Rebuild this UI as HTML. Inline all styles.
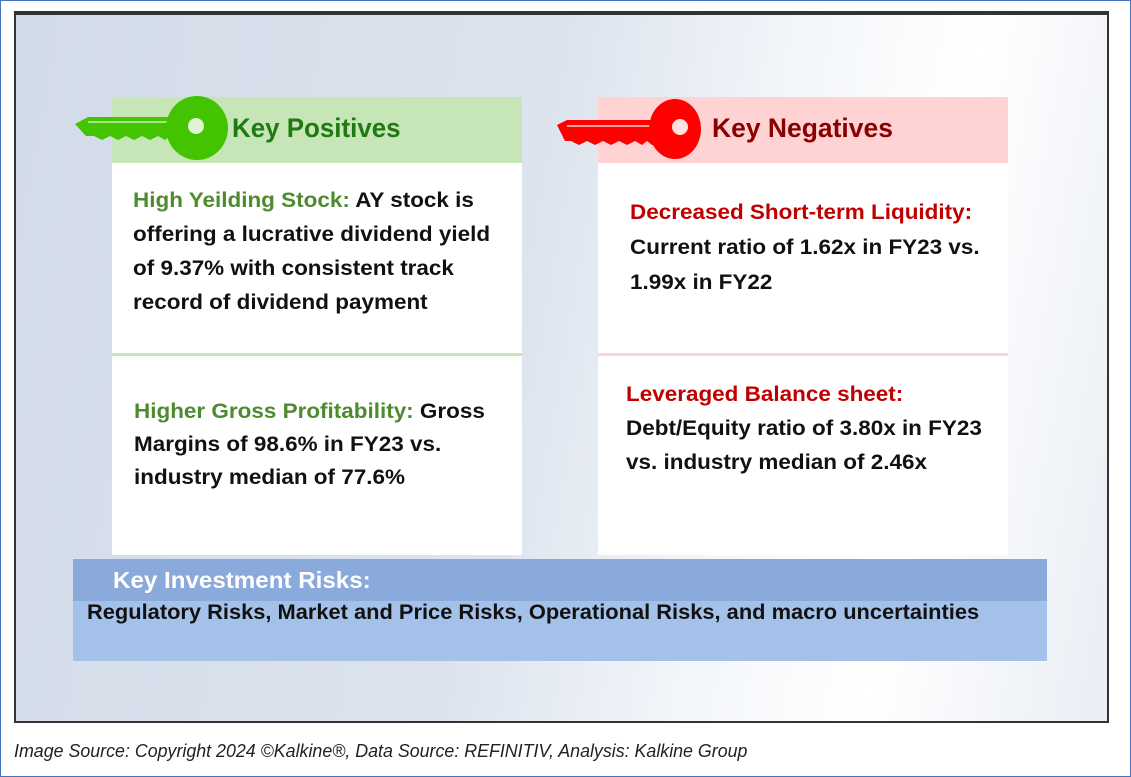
<!DOCTYPE html>
<html><head><meta charset="utf-8"><style>
body{margin:0;width:1131px;height:777px;background:#fff;position:relative;overflow:hidden;font-family:"Liberation Sans",sans-serif}
.abs{position:absolute}
.t{position:absolute;white-space:nowrap;font-weight:bold;font-size:21px;color:#111;transform-origin:left top;transform:scaleX(1.07)}
.g{color:#4e8a2e}.r{color:#c00000}
</style></head><body>
<div class="abs" style="left:0;top:0;width:1129px;height:775px;border:1px solid #4472c4"></div>
<div class="abs" style="left:14px;top:11px;width:1091px;height:706px;border:2px solid #333;border-top-width:4px;background:linear-gradient(100deg,#d2dbe8 0%,#dce3ee 45%,#f3f6fa 65%,#fff 80%,#e9edf4 100%)"></div>

<div class="abs" style="left:112px;top:97px;width:410px;height:66px;background:#c6e6b8"></div>
<div class="abs" style="left:112px;top:163px;width:410px;height:392px;background:#fff"></div>
<div class="abs" style="left:112px;top:353px;width:410px;height:3px;background:#c6e6b8"></div>
<div class="abs" style="left:598px;top:97px;width:410px;height:66px;background:#ffd3d3"></div>
<div class="abs" style="left:598px;top:163px;width:410px;height:392px;background:#fff"></div>
<div class="abs" style="left:598px;top:353px;width:410px;height:3px;background:#ffd3d3"></div>

<svg class="abs" style="left:70px;top:90px" width="170" height="80">
<path d="M5 34 L18 27 L110 27 L110 50 L105 50 L100 46 L95 50 L88 46 L80 50 L72 46 L64 50 L56 46 L48 50 L40 46 L32 50 L24 46 L16 46 Z" fill="#44c300"/>
<line x1="18" y1="32" x2="110" y2="32" stroke="#c6f0b0" stroke-width="1.5"/>
<ellipse cx="127" cy="38" rx="31" ry="32" fill="#44c300"/>
<circle cx="126" cy="36" r="8" fill="#dff5d2"/>
</svg>
<svg class="abs" style="left:555px;top:90px" width="170" height="80">
<path d="M2 35 L12 30 L102 30 L102 55 L97 55 L92 51 L87 55 L80 51 L72 55 L64 51 L56 55 L48 51 L40 55 L32 51 L24 55 L16 51 L10 51 Z" fill="#ff0000"/>
<line x1="12" y1="36" x2="102" y2="36" stroke="#ffd0d0" stroke-width="1.5"/>
<ellipse cx="120" cy="39" rx="26" ry="30" fill="#ff0000"/>
<circle cx="125" cy="37" r="8" fill="#ffe0e0"/>
</svg>
<div class="t" style="left:232px;top:113px;font-size:27px;color:#1f7a12;transform:scaleX(0.96)">Key Positives</div>
<div class="t" style="left:712px;top:113px;font-size:27px;color:#8b0000;transform:scaleX(0.98)">Key Negatives</div>

<div class="t" style="left:133px;top:184px;line-height:34px"><span class="g">High Yeilding Stock:</span> AY stock is<br>offering a lucrative dividend yield<br>of 9.37% with consistent track<br>record of dividend payment</div>
<div class="t" style="left:134px;top:395px;line-height:33px"><span class="g">Higher Gross Profitability:</span> Gross<br>Margins of 98.6% in FY23 vs.<br>industry median of 77.6%</div>
<div class="t" style="left:630px;top:195px;line-height:35px"><span class="r">Decreased Short-term Liquidity:</span><br>Current ratio of 1.62x in FY23 vs.<br>1.99x in FY22</div>
<div class="t" style="left:626px;top:378px;line-height:34px"><span class="r">Leveraged Balance sheet:</span><br>Debt/Equity ratio of 3.80x in FY23<br>vs. industry median of 2.46x</div>

<div class="abs" style="left:73px;top:559px;width:974px;height:42px;background:#8aaadb"></div>
<div class="abs" style="left:73px;top:601px;width:974px;height:60px;background:#a4c1ea"></div>
<div class="t" style="left:113px;top:567px;font-size:23px;color:#fff;transform:scaleX(1.05)">Key Investment Risks:</div>
<div class="t" style="left:87px;top:601px;font-size:21px;transform:scaleX(1.04)">Regulatory Risks, Market and Price Risks, Operational Risks, and macro uncertainties</div>

<div class="t" style="left:14px;top:741px;font-size:18px;font-weight:normal;font-style:italic;color:#222;transform:scaleX(0.99)">Image Source: Copyright 2024 ©Kalkine®, Data Source: REFINITIV, Analysis: Kalkine Group</div>
</body></html>
